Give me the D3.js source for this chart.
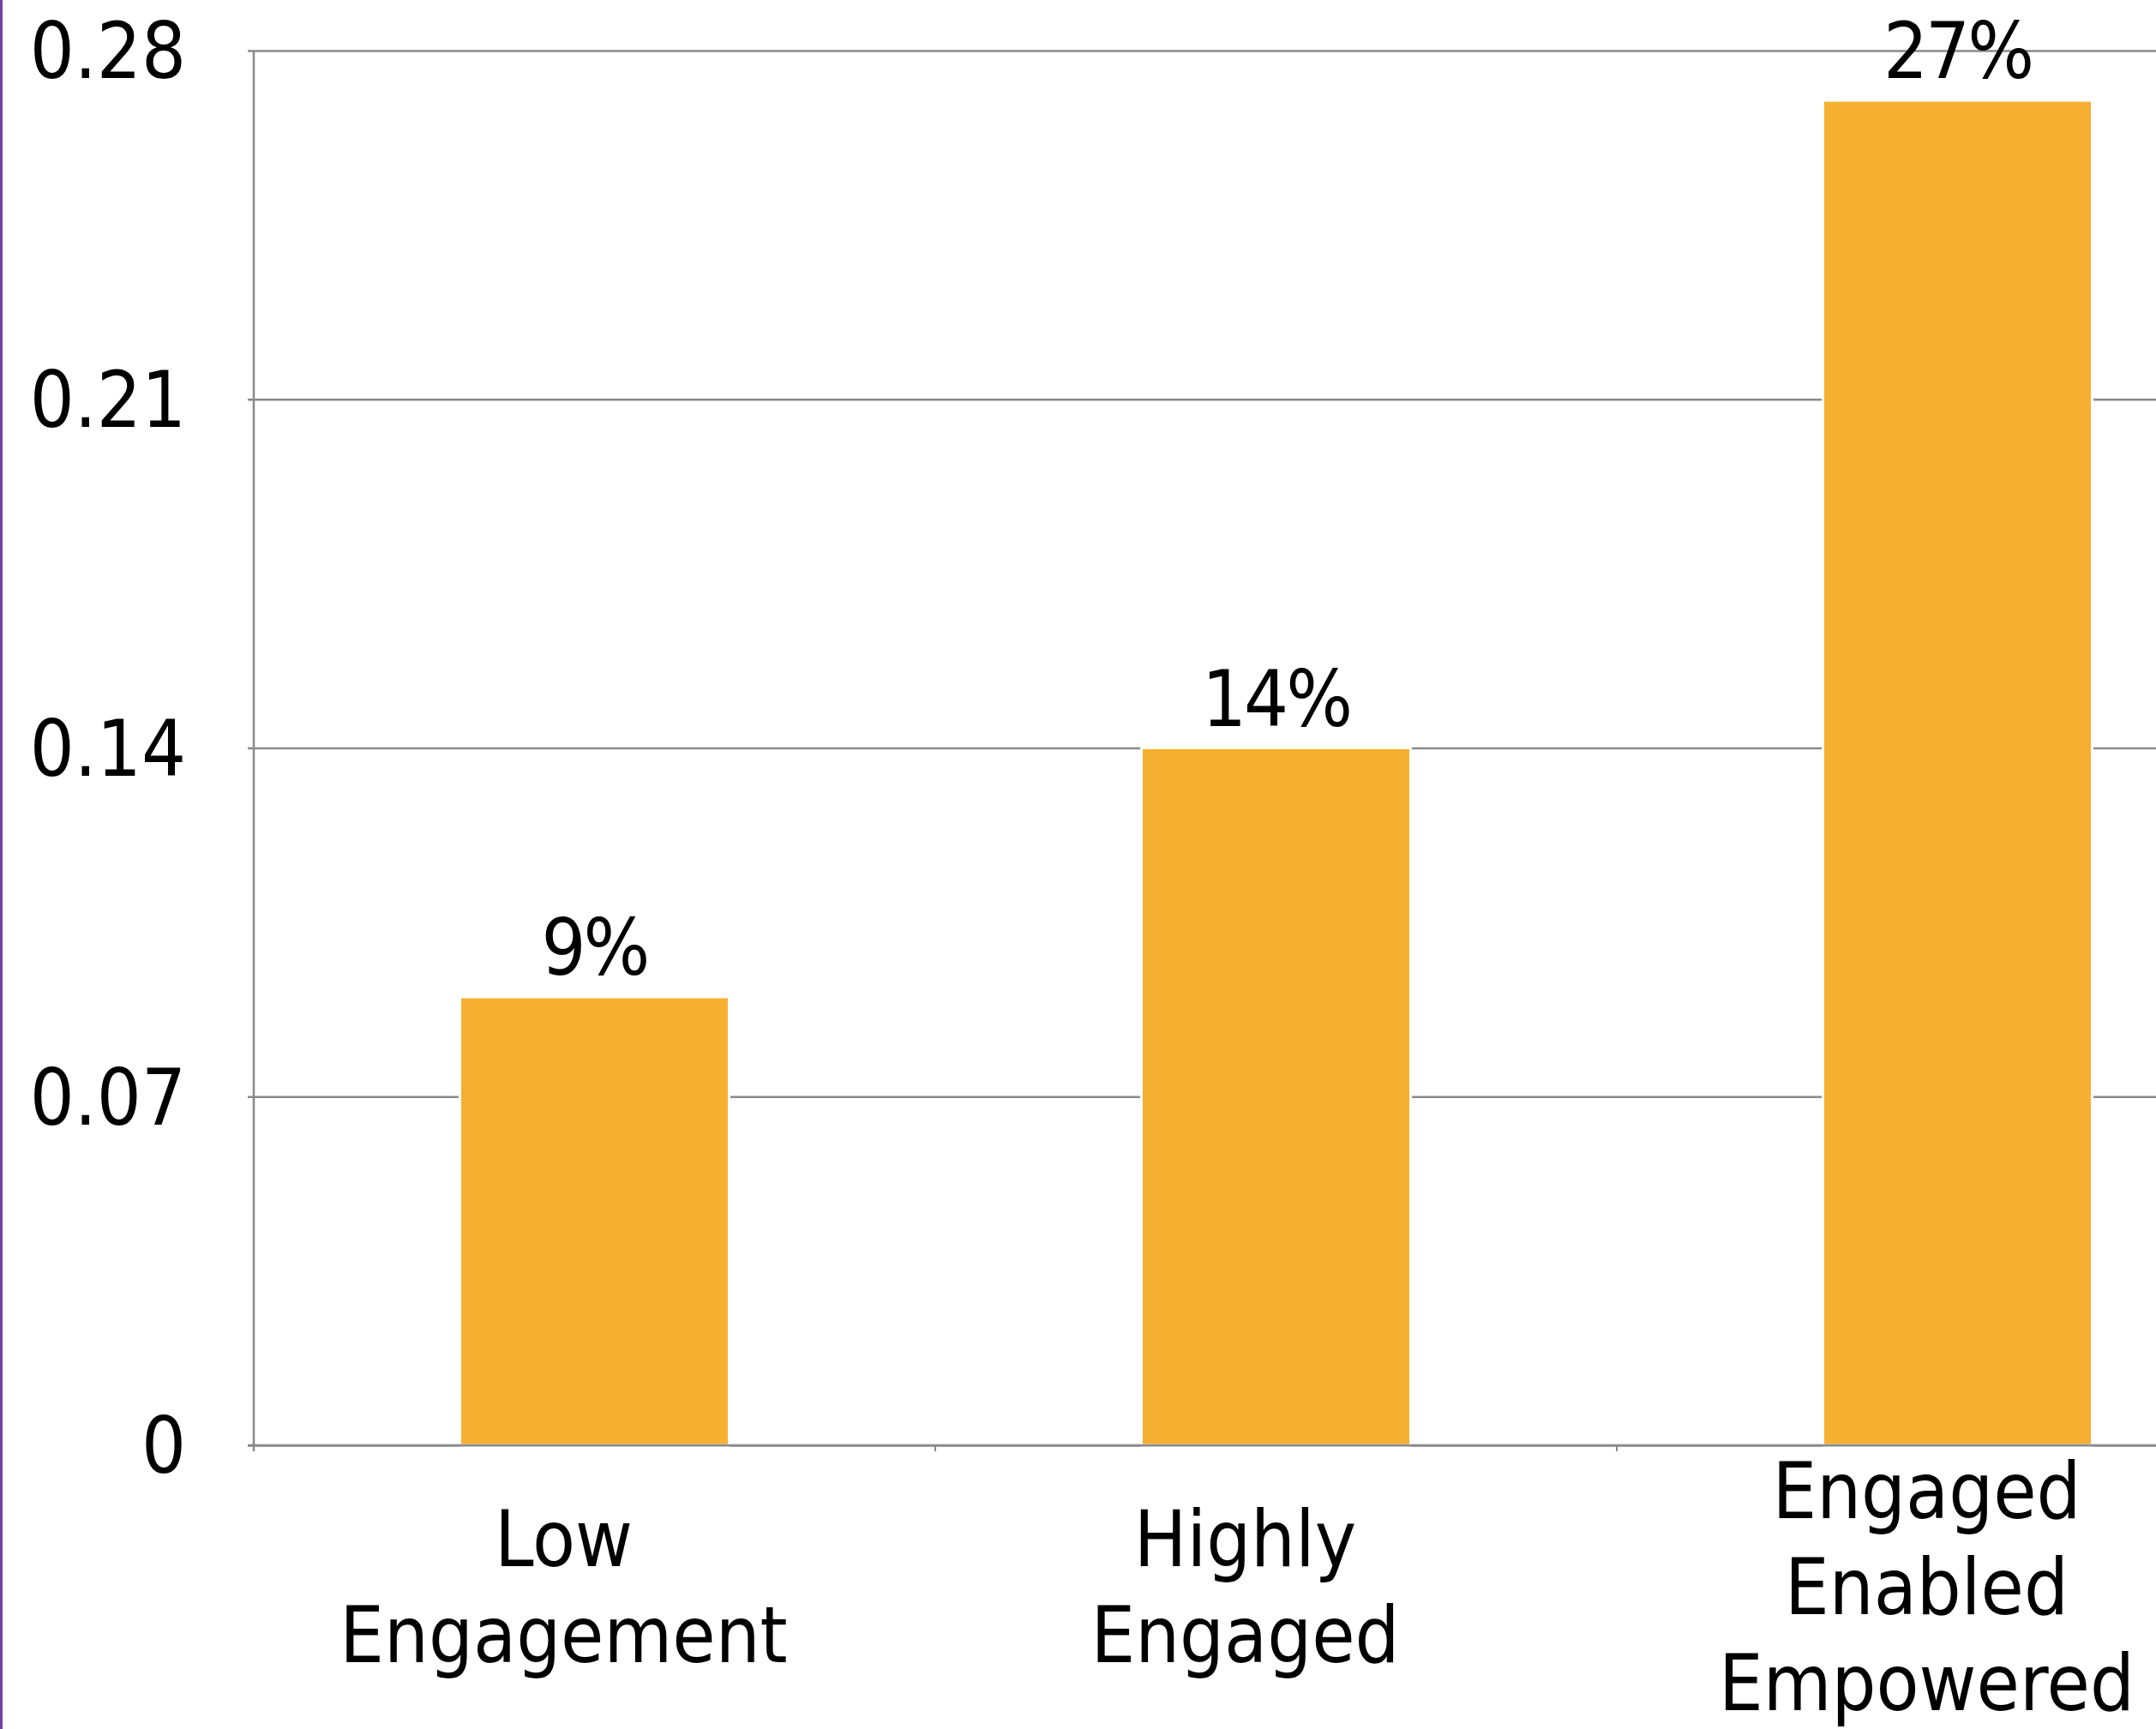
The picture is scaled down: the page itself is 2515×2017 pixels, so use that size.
<!DOCTYPE html>
<html>
<head>
<meta charset="utf-8">
<script src="https://cdn.jsdelivr.net/npm/d3@7"></script>
<style>
  html, body { margin: 0; padding: 0; background: #ffffff; }
  svg { display: block; }
  text { font-family: "DejaVu Sans Condensed", "DejaVu Sans", sans-serif; fill: #000; }
</style>
</head>
<body>
<script>
// ---- data ----
const categories = [["Low", "Engagement"], ["Highly", "Engaged"], ["Engaged", "Enabled", "Empowered"]];
const values = [0.09, 0.14, 0.27];
const valueLabels = ["9%", "14%", "27%"];
const yTicks = [0, 0.07, 0.14, 0.21, 0.28];
const yTickLabels = ["0", "0.07", "0.14", "0.21", "0.28"];

// ---- layout ----
const W = 2515, H = 2017;
const axisX = 296, yTop = 59, yBottom = 1686;
const step = 795;
const fontSize = 91;
const barColor = "#F5B031";
const gridColor = "#8a8a8a";

const svg = d3.select("body").append("svg").attr("width", W).attr("height", H);

const keys = categories.map(c => c.join(" "));
const x = d3.scaleBand().domain(keys)
  .range([axisX, axisX + step * keys.length])
  .paddingInner(0.605).paddingOuter(0.605 / 2);
const y = d3.scaleLinear().domain([0, 0.28]).range([yBottom, yTop]);

// purple left border
svg.append("line").attr("x1", 1.5).attr("x2", 1.5).attr("y1", 0).attr("y2", H)
  .attr("stroke", "#7a3fa3").attr("stroke-width", 3);

// gridlines + y ticks
const yAxis = d3.axisLeft(y).tickValues(yTicks).tickFormat((d, i) => yTickLabels[i])
  .tickSize(-(W - axisX)).tickPadding(0);
const gy = svg.append("g").attr("transform", `translate(${axisX},0)`).call(yAxis);
gy.select(".domain").remove();
gy.selectAll(".tick line").attr("stroke", gridColor).attr("stroke-width", 2.5).attr("x1", -7);
gy.selectAll(".tick text").attr("x", -79).attr("dy", "0.35em")
  .style("font-size", fontSize + "px").attr("fill", "#000")
  .style("font-family", '"DejaVu Sans Condensed", "DejaVu Sans", sans-serif');

// bars
svg.append("g").selectAll("rect").data(values).join("rect")
  .attr("x", (d, i) => x(keys[i]))
  .attr("width", x.bandwidth())
  .attr("y", d => y(d))
  .attr("height", d => yBottom - y(d))
  .attr("fill", barColor)
  .attr("stroke", "#ffffff").attr("stroke-width", 3);

// y axis line
svg.append("line").attr("x1", axisX).attr("x2", axisX).attr("y1", yTop).attr("y2", yBottom + 7)
  .attr("stroke", gridColor).attr("stroke-width", 2.5);
// x axis line
svg.append("line").attr("x1", axisX - 7).attr("x2", W).attr("y1", yBottom).attr("y2", yBottom)
  .attr("stroke", gridColor).attr("stroke-width", 2.5);
// x category boundary ticks
const bounds = keys.map(k => x(k) - x.step() * x.paddingInner() / 2);
svg.append("g").selectAll("line").data(bounds).join("line")
  .attr("x1", d => d).attr("x2", d => d).attr("y1", yBottom).attr("y2", yBottom + 7)
  .attr("stroke", gridColor).attr("stroke-width", 2);

// value labels
svg.append("g").selectAll("text").data(values).join("text")
  .attr("x", (d, i) => x(keys[i]) + x.bandwidth() / 2)
  .attr("y", d => y(d) - 26)
  .attr("text-anchor", "middle")
  .style("font-size", fontSize + "px")
  .style("letter-spacing", "-3px")
  .text((d, i) => valueLabels[i]);

// category labels (multi-line, centred on a common middle)
const lineH = 112, labelMid = 1883, labelShift = -36;
const cl = svg.append("g").selectAll("text").data(categories).join("text")
  .attr("text-anchor", "middle")
  .style("font-size", fontSize + "px");
cl.each(function(lines, i) {
  const cx = x(keys[i]) + x.bandwidth() / 2 + labelShift;
  const first = labelMid - (lines.length - 1) * lineH / 2;
  d3.select(this).selectAll("tspan").data(lines).join("tspan")
    .attr("x", cx).attr("y", (d, j) => first + j * lineH)
    .text(d => d);
});
</script>
</body>
</html>
